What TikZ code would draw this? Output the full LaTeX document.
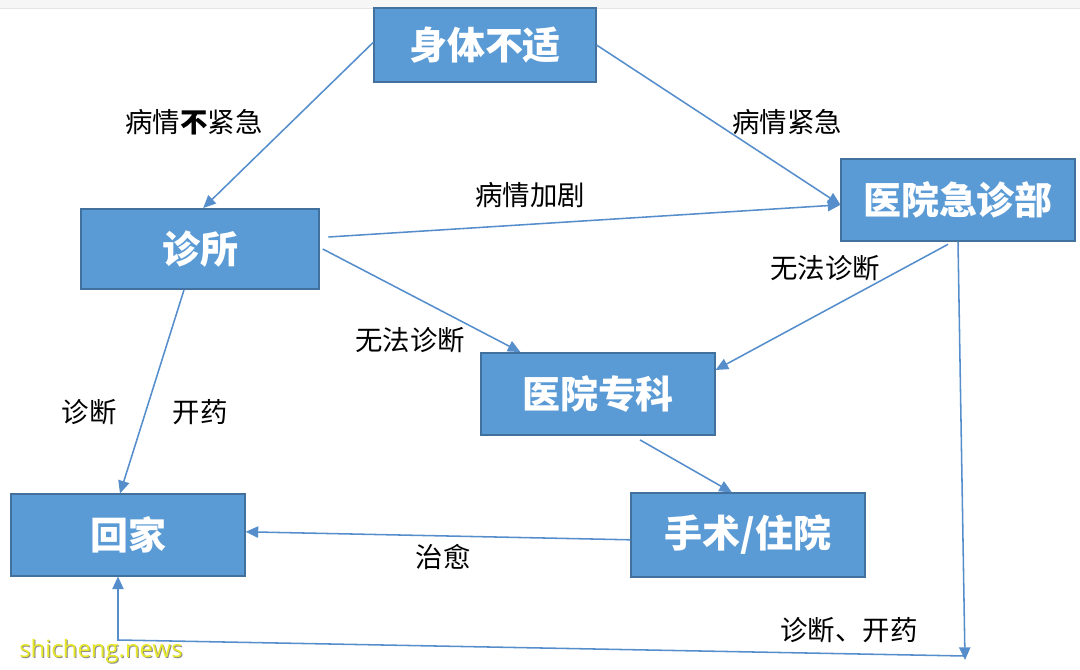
\documentclass[tikz,border=0pt]{standalone}
\usepackage{fontspec}
\setmainfont{Noto Sans CJK SC}
\newfontfamily\markfont{Open Sans}
\usetikzlibrary{arrows.meta}

\definecolor{boxFill}{RGB}{91,155,213}
\definecolor{boxLine}{RGB}{65,113,156}
\definecolor{flowColor}{RGB}{86,142,204}
\definecolor{markColor}{RGB}{232,232,40}

\begin{document}
\begin{tikzpicture}[x=0.025cm,y=-0.025cm,
  stage/.style={draw=boxLine,fill=boxFill,line width=1.3pt,text=white,inner sep=0pt,font=\bfseries\fontsize{27}{31}\selectfont},
  flow/.style={draw=flowColor,line width=1.1pt,-{Triangle[length=9pt,width=8pt]}},
  note/.style={font=\fontsize{19.5}{22}\selectfont,inner sep=0pt}]
\useasboundingbox (0,0) rectangle (1080,670);
\fill[gray!7] (0,0) rectangle (1080,8);
\draw[gray!20] (0,8) -- (1080,8);

% boxes
\node[stage,minimum width=5.53cm,minimum height=1.85cm] (symptom) at (485,45) {身体不适};
\node[stage,minimum width=5.93cm,minimum height=2cm] (clinic) at (200,249) {诊所};
\node[stage,minimum width=5.83cm,minimum height=2.03cm] (er) at (958,200) {医院急诊部};
\node[stage,minimum width=5.83cm,minimum height=2.05cm] (spec) at (598,394) {医院专科};
\node[stage,minimum width=5.83cm,minimum height=2.03cm] (home) at (128,535) {回家};
\node[stage,minimum width=5.83cm,minimum height=2.08cm] (surgery) at (748,535) {手术/住院};
\coordinate (er end) at (965,660);
\coordinate (home turn) at (118,640);

% connectors
\draw[flow] ([yshift=0.07cm]symptom.west) -- ([xshift=0.08cm]clinic.north);
\draw[flow] (symptom.east) -- ([yshift=-0.12cm]er.west);
\draw[flow] ([xshift=0.22cm,yshift=0.3cm]clinic.east) -- ([yshift=-0.12cm]er.west);
\draw[flow] ([xshift=0.08cm]clinic.east) -- ([xshift=1cm]spec.north west);
\draw[flow] ([xshift=-0.25cm,yshift=-0.07cm]er.south) -- ([yshift=0.6cm]spec.east);
\draw[flow] ([xshift=-0.4cm]clinic.south) -- ([xshift=-0.2cm]home.north);
\draw[flow] ([xshift=1.05cm,yshift=-0.1cm]spec.south) -- ([xshift=-0.4cm]surgery.north);
\draw[flow] ([yshift=-0.12cm]surgery.west) -- ([yshift=0.08cm]home.east);
\draw[flow] (er.south) -- (er end);
\draw[flow] ([yshift=0.1cm]er end) -- (home turn) -- ([xshift=-0.25cm]home.south);

% labels
\node[note] (calm) at (194,122) {病情\textbf{不}紧急};
\node[note] (urgent) at (787,122) {病情紧急};
\node[note] (worse) at (530,195) {病情加剧};
\node[note] (unclear a) at (410,340) {无法诊断};
\node[note] (unclear b) at (825,268) {无法诊断};
\node[note] (diag) at (89,412) {诊断};
\node[note] (drug) at (200,412) {开药};
\node[note] (cured) at (443,557) {治愈};
\node[note] (diag drug) at (849,630) {诊断、开药};

\node[font=\markfont\fontsize{17}{20}\selectfont,text=black!45,inner sep=0pt] at (102,652) {shicheng.news};
\node[font=\markfont\fontsize{17}{20}\selectfont,text=markColor,inner sep=0pt] (mark) at (101,651) {shicheng.news};
\end{tikzpicture}
\end{document}
